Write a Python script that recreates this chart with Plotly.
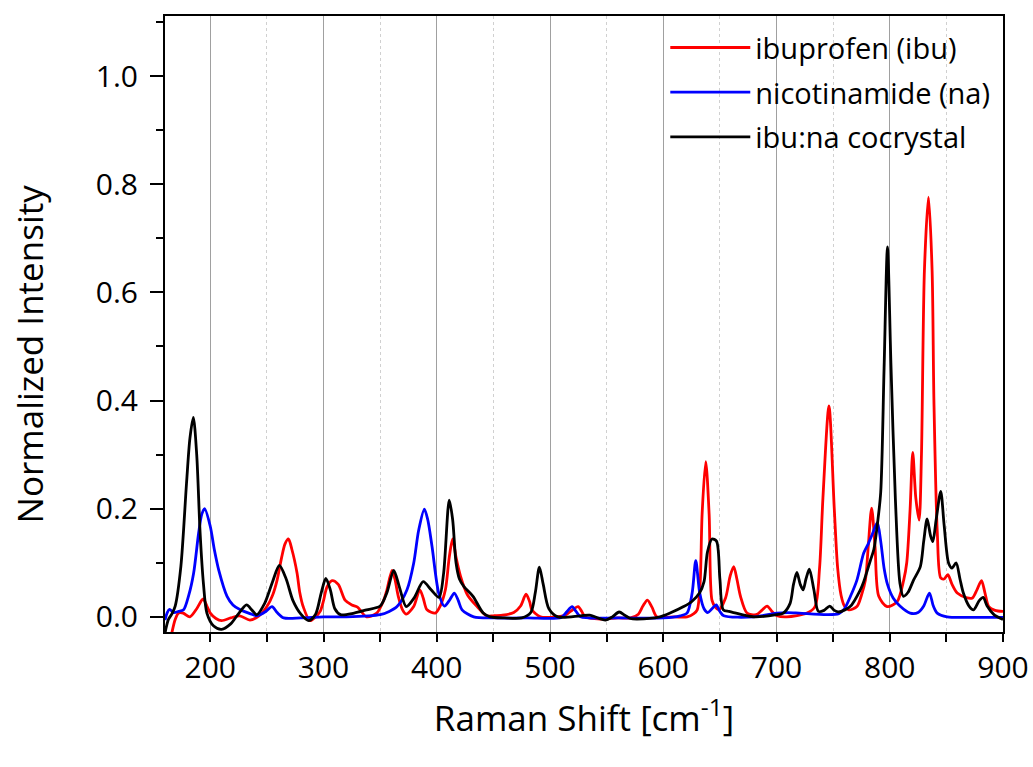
import plotly.graph_objects as go

# ---------------- data ----------------
ibu_x = [163, 166, 169, 172, 176, 182, 188, 193.6, 197, 200, 205, 210, 218, 226, 235, 243, 250, 255, 259, 263, 266,
         269, 272, 276.6, 279, 282, 288, 293, 297, 300, 303, 307.5, 313, 319, 325, 330, 338, 347, 353, 356, 360.5,
         363, 366, 370, 373, 379.6, 385, 388, 391.4, 398.7, 403, 407.6, 411, 414, 417, 421, 427, 435.6, 444, 450,
         458, 468, 474, 478.8, 482, 484, 491.5, 505, 514, 518, 524.8, 528, 531, 544.5, 560, 571, 578, 582, 586,
         590, 594.5, 610, 621, 627, 630, 632.5, 634.3, 637.5, 640.5, 643, 646, 649, 655, 659, 662.2, 665, 668.2,
         674, 682, 687, 691.7, 696, 700.5, 709, 727, 734, 738, 741, 746.3, 751, 754, 757, 760, 763.8, 771, 775,
         778.5, 781, 784, 787, 790.3, 797.7, 806.5, 812.3, 815, 818, 820.3, 823, 825.9, 828, 830.6, 834.2, 837.4,
         839, 842, 845, 848, 851.3, 855, 859.6, 868.4, 873, 877, 881, 884, 887.4, 893, 900]
ibu_y = [-0.06, -0.03, -0.005, 0.007, 0.007, 0.0, 0.015, 0.033, 0.02, 0.007, -0.003, -0.007, -0.002, 0.002, -0.006,
         0.002, 0.019, 0.04, 0.068, 0.11, 0.135, 0.144, 0.125, 0.081, 0.045, 0.019, -0.007, 0.0, 0.01, 0.03, 0.055,
         0.067, 0.06, 0.031, 0.022, 0.018, 0.0, 0.007, 0.03, 0.05, 0.086, 0.07, 0.038, 0.012, 0.005, 0.019, 0.05,
         0.035, 0.013, 0.007, 0.02, 0.05, 0.11, 0.144, 0.11, 0.075, 0.041, 0.019, 0.002, 0.002, 0.003, 0.008, 0.02,
         0.042, 0.028, 0.013, 0.0, 0.0, 0.004, 0.01, 0.019, 0.01, 0.0, -0.004, -0.002, -0.002, 0.005, 0.02, 0.031,
         0.018, 0.0, 0.0, 0.0, 0.006, 0.013, 0.06, 0.19, 0.287, 0.19, 0.031, 0.018, 0.013, 0.035, 0.075, 0.093,
         0.07, 0.038, 0.007, 0.004, 0.012, 0.02, 0.01, 0.002, 0.0, 0.007, 0.019, 0.09, 0.22, 0.39, 0.2, 0.09, 0.04,
         0.02, 0.013, 0.019, 0.04, 0.068, 0.13, 0.201, 0.13, 0.038, 0.019, 0.028, 0.068, 0.1, 0.2, 0.304, 0.22,
         0.179, 0.3, 0.64, 0.776, 0.64, 0.4, 0.155, 0.072, 0.07, 0.078, 0.06, 0.044, 0.035, 0.035, 0.05, 0.067,
         0.045, 0.019, 0.012, 0.01]

na_x = [160, 162, 164, 167.6, 172, 176.4, 181, 185.3, 189.7, 192.5, 195, 200, 203.5, 207.4, 214.8, 220, 226.5, 235,
        241.2, 249, 254.5, 259, 264.8, 280, 300, 320, 350, 358, 364.9, 373.7, 379.6, 384, 389, 392, 395.8, 401.7,
        406.7, 411, 415.5, 419, 422.3, 432.6, 450, 480, 510, 515, 519.5, 523, 527, 560, 600, 615, 621, 625.5,
        628.7, 632.2, 636, 639.3, 643, 646.7, 650, 653.4, 680, 700, 710, 720, 744.7, 755, 760, 765.3, 771, 777,
        781, 785, 789, 792, 795, 798, 803, 809, 818, 825, 830, 835, 838.5, 841.9, 850.7, 870, 900]
na_y = [-0.006, 0.008, 0.014, 0.008, 0.01, 0.013, 0.04, 0.081, 0.155, 0.19, 0.2, 0.167, 0.125, 0.087, 0.038, 0.022,
        0.013, 0.006, 0.002, 0.01, 0.019, 0.008, -0.002, -0.002, 0.0, 0.0, 0.004, 0.01, 0.019, 0.05, 0.099, 0.16,
        0.199, 0.18, 0.13, 0.044, 0.02, 0.03, 0.044, 0.03, 0.013, 0.0, -0.002, -0.002, -0.001, 0.01, 0.019, 0.01,
        0.0, -0.002, -0.002, 0.002, 0.007, 0.044, 0.104, 0.044, 0.015, 0.008, 0.015, 0.022, 0.01, 0.002, 0.0,
        0.007, 0.008, 0.007, 0.004, 0.006, 0.015, 0.038, 0.068, 0.118, 0.135, 0.155, 0.174, 0.14, 0.09, 0.06,
        0.035, 0.02, 0.007, 0.008, 0.02, 0.044, 0.02, 0.007, 0.0, -0.001, -0.001]

co_x = [160, 163, 166, 169, 174, 179, 182, 185, 188, 191, 194, 197, 203, 210, 218, 225, 232, 237, 241, 248, 255, 261,
        267, 273, 280, 287, 293, 298, 302, 306, 310, 315, 327, 338, 350, 356, 362, 367, 373, 380, 388, 395, 402,
        406, 411, 414, 417, 420, 424, 432, 441, 447, 460, 475, 483, 487, 490.6, 494, 499, 507, 527, 535, 549, 555,
        561, 566, 571, 577, 597, 606, 618, 625, 632, 636, 639, 643, 647, 650, 653, 658, 662, 680, 700, 706, 712,
        715, 718, 721, 723.5, 726, 729, 733, 737, 742, 747, 751, 755, 765, 774, 777, 783, 786, 789, 792, 795, 798,
        801, 805, 809, 812, 816, 821, 827, 830, 833, 836, 838, 841, 845, 848, 852, 855, 858.6, 862, 865, 870, 874,
        879, 882.5, 886, 892, 899, 900]
co_y = [-0.03, -0.005, 0.005, 0.02, 0.093, 0.247, 0.33, 0.369, 0.3, 0.155, 0.06, 0.007, -0.017, -0.023, -0.013,
        0.006, 0.022, 0.012, 0.004, 0.025, 0.065, 0.095, 0.07, 0.03, 0.005, -0.007, 0.005, 0.045, 0.071, 0.05,
        0.015, 0.004, 0.007, 0.013, 0.02, 0.045, 0.086, 0.055, 0.019, 0.035, 0.065, 0.05, 0.036, 0.08, 0.216, 0.18,
        0.1, 0.07, 0.056, 0.038, 0.007, 0.0, -0.002, -0.002, 0.008, 0.045, 0.092, 0.06, 0.015, 0.0, 0.002, 0.003,
        -0.006, 0.0, 0.009, 0.003, -0.003, -0.004, 0.0, 0.007, 0.019, 0.028, 0.044, 0.065, 0.12, 0.144, 0.14, 0.07,
        0.013, 0.01, 0.008, 0.0, 0.004, 0.007, 0.025, 0.06, 0.082, 0.06, 0.05, 0.07, 0.088, 0.05, 0.01, 0.012, 0.02,
        0.012, 0.009, 0.019, 0.05, 0.065, 0.105, 0.125, 0.17, 0.23, 0.46, 0.684, 0.47, 0.216, 0.062, 0.038, 0.045,
        0.068, 0.093, 0.14, 0.181, 0.15, 0.139, 0.18, 0.232, 0.17, 0.099, 0.09, 0.1, 0.07, 0.044, 0.02, 0.013,
        0.03, 0.036, 0.02, 0.004, -0.004, -0.005]

names = ["ibuprofen (ibu)", "nicotinamide (na)", "ibu:na cocrystal"]
colors = ["#FF0000", "#0000FF", "#000000"]

x_range = [160, 900]
y_range = [-0.028, 1.111]
x_ticks = [200, 300, 400, 500, 600, 700, 800, 900]
y_ticks = [0.0, 0.2, 0.4, 0.6, 0.8, 1.0]
x_title = "Raman Shift [cm<sup>-1</sup>]"
y_title = "Normalized Intensity"

FONT = "Open Sans"

fig = go.Figure()
for xs, ys, nm, c in zip([ibu_x, na_x, co_x], [ibu_y, na_y, co_y], names, colors):
    fig.add_trace(go.Scatter(x=xs, y=ys, mode="lines", name=nm, legendgroup=nm,
                             line=dict(color=c, width=2.8, shape="spline", smoothing=0.8)))

fig.update_layout(
    width=1033, height=767,
    margin=dict(l=165, r=30, t=16, b=135),
    paper_bgcolor="white", plot_bgcolor="white",
    font=dict(family=FONT, color="black", size=30),
    showlegend=True,
    legend=dict(x=0.597, y=0.99, xanchor="left", yanchor="top",
                bgcolor="rgba(0,0,0,0)", font=dict(size=29, family=FONT),
                traceorder="grouped", tracegroupgap=4, itemwidth=80),
    xaxis=dict(range=x_range, tickvals=x_ticks, ticks="outside", ticklen=8, tickwidth=2,
               tickcolor="black", showline=True, linecolor="black", linewidth=2, mirror=True,
               showgrid=True, gridcolor="#A0A0A0", gridwidth=1, zeroline=False, automargin=False,
               tickfont=dict(size=30), ticklabelstandoff=0,
               minor=dict(dtick=50, tick0=150, ticks="outside", ticklen=8, tickwidth=2, tickcolor="black",
                          showgrid=True, gridcolor="#D0D0D0", griddash="dot", gridwidth=1),
               title=dict(text=x_title, font=dict(size=35), standoff=20)),
    xaxis2=dict(range=x_range, overlaying="x", side="top", tickvals=x_ticks, ticks="inside", ticklen=12,
                tickwidth=2, tickcolor="black", showticklabels=False, showgrid=False, zeroline=False,
                automargin=False,
                minor=dict(dtick=50, tick0=150, ticks="inside", ticklen=7, tickwidth=2, tickcolor="black")),
    yaxis=dict(range=y_range, tickvals=y_ticks, tickformat=".1f", ticks="outside", ticklen=13, tickwidth=2,
               tickcolor="black", showline=True, linecolor="black", linewidth=2, mirror=True,
               showgrid=False, zeroline=False, automargin=False, tickfont=dict(size=30), ticklabelstandoff=6,
               minor=dict(dtick=0.1, tick0=0, ticks="outside", ticklen=7, tickwidth=2, tickcolor="black",
                          showgrid=False)),
    annotations=[dict(text=y_title, textangle=-90, xref="paper", yref="paper", x=-0.162, y=0.451,
                      xanchor="center", yanchor="middle", showarrow=False, font=dict(size=35))],
)

fig.write_html("out.html")
